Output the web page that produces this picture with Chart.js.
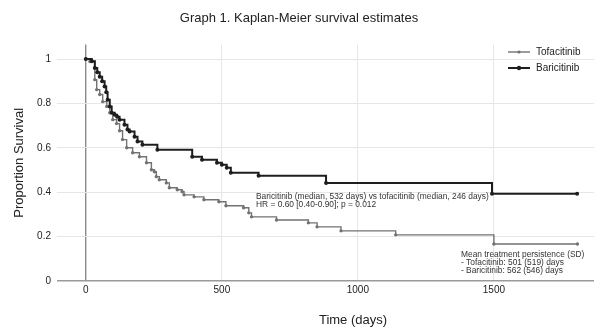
<!DOCTYPE html>
<html>
<head>
<meta charset="utf-8">
<script src="https://cdn.jsdelivr.net/npm/chart.js@4.4.0/dist/chart.umd.min.js"></script>
<style>
  html, body { margin: 0; padding: 0; background: #fff; }
  canvas { display: block; }
</style>
</head>
<body>
<canvas id="kmChart" width="598" height="327"></canvas>
<script>
// Kaplan-Meier step data (time in days, proportion surviving)
const tofaDays = [0, 15, 33, 40, 51, 62, 77, 88, 99, 113, 124, 135, 150, 172, 197, 223, 241, 252, 259, 270,
                  296, 307, 336, 354, 361, 398, 434, 489, 515, 580, 599, 609, 701, 818, 850, 938, 1139, 1500, 1807];
const tofaSurv = [1.0, 0.989, 0.907, 0.862, 0.84, 0.808, 0.786, 0.758, 0.727, 0.709, 0.677, 0.637, 0.60, 0.578, 0.56, 0.533, 0.501, 0.492, 0.47, 0.456,
                  0.442, 0.42, 0.411, 0.402, 0.388, 0.379, 0.366, 0.357, 0.339, 0.33, 0.307, 0.289, 0.275, 0.262, 0.244, 0.226, 0.208, 0.167, 0.167];

const bariDays = [0, 22, 33, 42, 51, 60, 69, 75, 80, 88, 95, 106, 115, 124, 142, 153, 161, 179, 190, 208,
                  263, 391, 427, 482, 500, 518, 533, 635, 883, 1493, 1806];
const bariSurv = [1.0, 0.99, 0.96, 0.94, 0.92, 0.9, 0.876, 0.85, 0.817, 0.786, 0.758, 0.749, 0.74, 0.727, 0.704, 0.682, 0.673, 0.65, 0.628, 0.614,
                  0.591, 0.56, 0.546, 0.533, 0.524, 0.51, 0.488, 0.474, 0.442, 0.393, 0.393];

const xTicks = [0, 500, 1000, 1500];
const yTicks = [0, 0.2, 0.4, 0.6, 0.8, 1];

const seriesNames = ['Tofacitinib', 'Baricitinib'];
const noteMedian = ['Baricitinib (median, 532 days) vs tofacitinib (median, 246 days)',
                    'HR = 0.60 [0.40-0.90]; p = 0.012'];
const notePersistence = ['Mean treatment persistence (SD)',
                         '- Tofacitinib: 501 (519) days',
                         '- Baricitinib: 562 (546) days'];

const FONT = "'Liberation Sans', Arial, sans-serif";
const GRAY = '#727272';
const DARK = '#1e1e1e';

function toPoints(xs, ys) {
    return xs.map((x, i) => ({ x: x, y: ys[i] }));
}

// legend, notes and x-axis title drawn over the plot like the original figure
const overlayPlugin = {
    id: 'overlay',
    afterDraw(chart) {
        const ctx = chart.ctx;
        ctx.save();

        // legend (top right, inside plot)
        const entries = [
            { label: seriesNames[0], color: GRAY, width: 1.4, r: 1.6, y: 52 },
            { label: seriesNames[1], color: DARK, width: 2, r: 2.2, y: 68 }
        ];
        entries.forEach(e => {
            ctx.strokeStyle = e.color;
            ctx.lineWidth = e.width;
            ctx.beginPath();
            ctx.moveTo(508, e.y);
            ctx.lineTo(530, e.y);
            ctx.stroke();
            ctx.fillStyle = e.color;
            ctx.beginPath();
            ctx.arc(519, e.y, e.r, 0, Math.PI * 2);
            ctx.fill();
            ctx.fillStyle = '#222';
            ctx.font = '10px ' + FONT;
            ctx.textAlign = 'left';
            ctx.textBaseline = 'middle';
            ctx.fillText(e.label, 536, e.y);
        });

        // annotation notes
        ctx.fillStyle = '#333';
        ctx.font = '8.4px ' + FONT;
        ctx.textAlign = 'left';
        ctx.textBaseline = 'middle';
        noteMedian.forEach((t, i) => ctx.fillText(t, 256, 197 + i * 7.8));
        notePersistence.forEach((t, i) => ctx.fillText(t, 461, 255 + i * 7.8));

        // x-axis title
        ctx.fillStyle = '#222';
        ctx.font = '13px ' + FONT;
        ctx.textAlign = 'center';
        ctx.fillText('Time (days)', 353, 320);

        ctx.restore();
    }
};

const chart = new Chart(document.getElementById('kmChart').getContext('2d'), {
    type: 'line',
    data: {
        datasets: [
            {
                label: seriesNames[0],
                data: toPoints(tofaDays, tofaSurv),
                borderColor: GRAY,
                backgroundColor: GRAY,
                borderWidth: 1.4,
                pointRadius: 1.7,
                pointBorderWidth: 0,
                stepped: true,
                fill: false,
                order: 1
            },
            {
                label: seriesNames[1],
                data: toPoints(bariDays, bariSurv),
                borderColor: DARK,
                backgroundColor: DARK,
                borderWidth: 2,
                pointRadius: 2,
                pointBorderWidth: 0,
                stepped: true,
                fill: false,
                order: 0
            }
        ]
    },
    options: {
        responsive: false,
        animation: false,
        layout: { padding: { left: 0, right: 0, top: 0, bottom: 0 } },
        scales: {
            x: {
                type: 'linear',
                min: -106,
                max: 1868,
                afterBuildTicks: axis => { axis.ticks = xTicks.map(v => ({ value: v })); },
                afterFit: axis => { axis.height = 46; },
                border: { display: false },
                grid: {
                    drawTicks: false,
                    color: c => (c.tick && c.tick.value === 0) ? '#8c8c8c' : '#e6e6e6',
                    lineWidth: c => (c.tick && c.tick.value === 0) ? 1.4 : 1
                },
                ticks: {
                    padding: 3,
                    color: '#222',
                    font: { family: FONT, size: 10 },
                    maxRotation: 0,
                    callback: v => String(v)
                }
            },
            y: {
                min: 0,
                max: 1.065,
                afterBuildTicks: axis => { axis.ticks = yTicks.map(v => ({ value: v })); },
                afterFit: axis => { axis.width = 57; },
                border: { display: false },
                grid: {
                    drawTicks: false,
                    color: c => (c.tick && c.tick.value === 0) ? '#9a9a9a' : '#e6e6e6',
                    lineWidth: c => (c.tick && c.tick.value === 0) ? 1.4 : 1
                },
                ticks: {
                    padding: 6,
                    color: '#222',
                    font: { family: FONT, size: 10 },
                    callback: v => String(+Number(v).toFixed(1))
                },
                title: {
                    display: true,
                    text: 'Proportion Survival',
                    color: '#222',
                    font: { family: FONT, size: 13 },
                    padding: { top: 12, bottom: 0 }
                }
            }
        },
        plugins: {
            legend: { display: false },
            tooltip: { enabled: false },
            title: {
                display: true,
                text: 'Graph 1. Kaplan-Meier survival estimates',
                color: '#222',
                font: { family: FONT, size: 13, weight: 'normal' },
                padding: { top: 11, bottom: 18 }
            }
        }
    },
    plugins: [overlayPlugin]
});
</script>
</body>
</html>
